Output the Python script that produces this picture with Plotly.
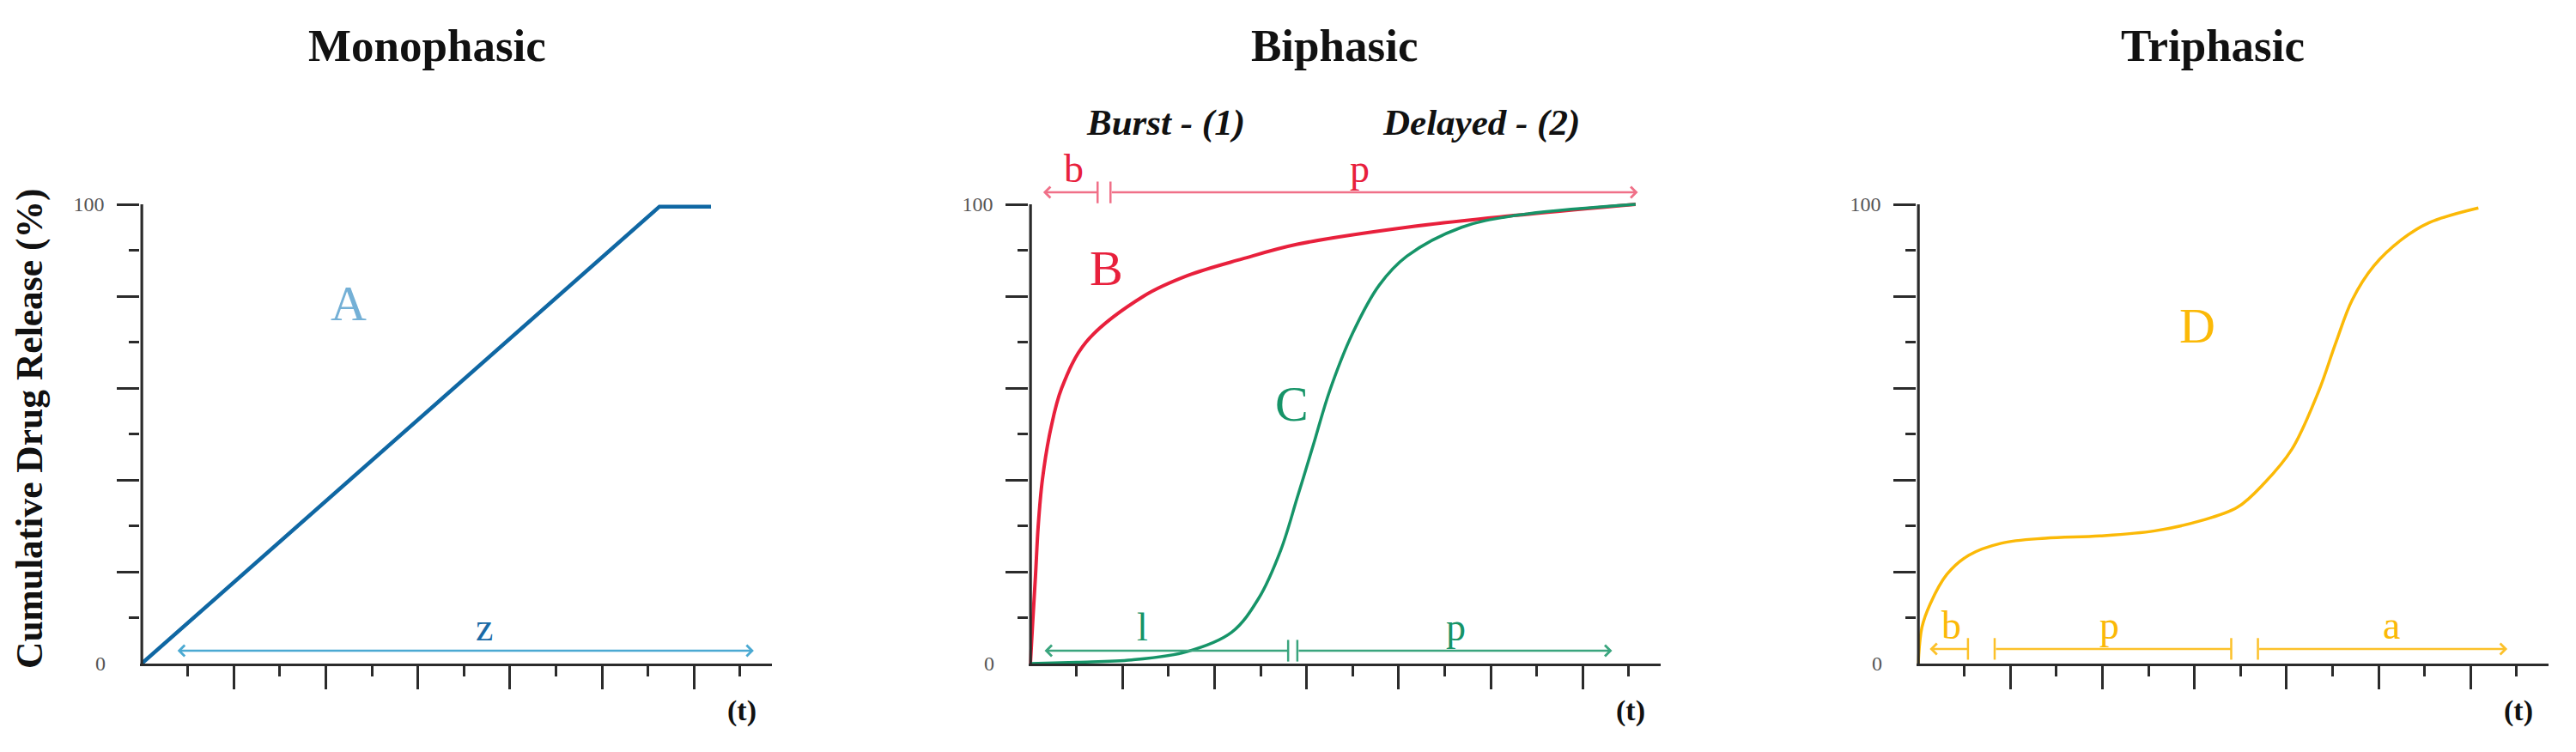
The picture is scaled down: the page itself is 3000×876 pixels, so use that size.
import plotly.graph_objects as go

# ---- data (x in time units, y in % released) ----
# Monophasic
a_x = [0, 11.25, 12.37]
a_y = [0, 99.5, 99.5]

# Biphasic
b_x = [0, 0.05, 0.11, 0.17, 0.26, 0.44, 0.68, 1.21, 2.46, 3.42, 4.6, 5.8, 8.18, 10.56, 13.15]
b_y = [0, 9, 19, 30, 40, 51, 60, 70, 80, 84.5, 88.1, 91.3, 95, 97.6, 100]
c_x = [0, 1.0, 2.2, 3.4, 4.37, 4.96, 5.44, 5.8, 6.15, 6.5, 7.0, 7.58, 8.18, 9.37, 10.56, 13.15]
c_y = [0, 0.3, 0.8, 2.6, 6.8, 14.2, 24.7, 36.2, 47.7, 59.3, 71.9, 82.4, 88.7, 95, 97.6, 100]

# Triphasic
d_x = [0, 0.08, 0.26, 0.62, 1.1, 1.8, 2.76, 3.95, 5.14, 6.1, 6.93, 7.52, 8.12, 8.7,
       9.07, 9.43, 9.9, 10.5, 11.1, 12.17]
d_y = [0, 7.9, 13, 19.4, 23.6, 26.2, 27.3, 27.8, 28.9, 31, 34, 39.3, 46.7, 59.3,
       69.8, 79.2, 86.6, 92.3, 96, 99.2]

# phase spans: (start, end, level, left end, right end, label, label x)
mono_spans = [(0.75, 13.3, 2.8, "arrow", "arrow", "z", 7.44)]
bi_spans_top = [(0.25, 1.46, 102.6, "arrow", "bar", "b", 0.95),
                (1.74, 13.2, 102.6, "bar", "arrow", "p", 7.16)]
bi_spans_bottom = [(0.28, 5.6, 2.8, "arrow", "bar", "l", 2.43),
                   (5.8, 12.64, 2.8, "bar", "arrow", "p", 9.24)]
tri_spans = [(0.22, 1.08, 3.2, "arrow", "bar", "b", 0.71),
             (1.66, 6.8, 3.2, "bar", "bar", "p", 4.16),
             (7.38, 12.8, 3.2, "bar", "arrow", "a", 10.28)]

titles = ["Monophasic", "Biphasic", "Triphasic"]
title_x = [6.2, 6.6, 6.4]
phase_names = [("Burst - (1)", 2.93), ("Delayed - (2)", 9.8)]

x_major = [2, 4, 6, 8, 10, 12]
x_minor = [1, 3, 5, 7, 9, 11, 13]
y_major = [20, 40, 60, 80, 100]
y_minor = [10, 30, 50, 70, 90]
y_text = ["", "", "", "", "100"]

# the page body keeps its default 8px margin, so the figure is shrunk by that much
OFF = 8
W, H = 3000 - OFF, 876 - OFF
PX = 53.6            # pixels per time unit
PY = 5.35            # pixels per percent
Y0 = 773             # page row of y = 0
origins = [165, 1200, 2234]   # page columns of x = 0
X_RANGE = [-0.03, 13.7]
Y_RANGE = [0, 125]
SERIF = "Liberation Serif"
AX = "#2b2b2b"


def fx(px):
    return (px - OFF) / W


def fy(py):
    return 1 - (py - OFF) / H


fig = go.Figure()

curves = [
    (1, a_x, a_y, "#0f67a3", 4.5, "linear"),
    (2, b_x, b_y, "#e8203c", 4, "spline"),
    (2, c_x, c_y, "#169468", 3.5, "spline"),
    (3, d_x, d_y, "#fbb907", 3.5, "spline"),
]
for p, xs, ys, col, w, shp in curves:
    sfx = "" if p == 1 else str(p)
    fig.add_trace(go.Scatter(x=xs, y=ys, mode="lines", xaxis="x" + sfx, yaxis="y" + sfx,
                             line=dict(color=col, width=w, shape=shp, smoothing=1.0),
                             showlegend=False, hoverinfo="skip"))

annotations = []
shapes = []


def add_spans(p, spans, line_col, text_col, font_size=46):
    sfx = "" if p == 1 else str(p)
    bar_x, bar_y = [], []
    for x0, x1, lvl, left, right, lab, lx in spans:
        side = {("arrow", "arrow"): "end+start", ("arrow", "bar"): "start",
                ("bar", "arrow"): "end", ("bar", "bar"): "none"}[(left, right)]
        annotations.append(dict(x=x1, y=lvl, ax=x0, ay=lvl, xref="x" + sfx, yref="y" + sfx,
                                axref="x" + sfx, ayref="y" + sfx, text="", showarrow=True,
                                arrowside=side, arrowhead=4, startarrowhead=4,
                                arrowsize=1, startarrowsize=1, arrowwidth=2.5,
                                arrowcolor=line_col, font=dict(size=1)))
        if left == "bar":
            bar_x.append(x0)
            bar_y.append(lvl)
        if right == "bar":
            bar_x.append(x1)
            bar_y.append(lvl)
        annotations.append(dict(x=lx, y=lvl + 5.2, xref="x" + sfx, yref="y" + sfx, text=lab,
                                showarrow=False, font=dict(family=SERIF, size=font_size, color=text_col)))
    if bar_x:
        fig.add_trace(go.Scatter(x=bar_x, y=bar_y, mode="markers", xaxis="x" + sfx, yaxis="y" + sfx,
                                 marker=dict(symbol="line-ns", size=18,
                                             line=dict(color=line_col, width=2.5)),
                                 showlegend=False, hoverinfo="skip"))


add_spans(1, mono_spans, "#4aa9d2", "#1a6aa6")
add_spans(2, bi_spans_top, "#f07088", "#e8203c")
add_spans(2, bi_spans_bottom, "#3aa57e", "#169468")
add_spans(3, tri_spans, "#fcc12a", "#fbb907")

# curve letters
letters = [(1, "A", 4.5, 78.5, "#74b0d6"), (2, "B", 1.66, 86, "#e8203c"),
           (2, "C", 5.69, 56.5, "#169468"), (3, "D", 6.06, 73.5, "#fbb907")]
for p, t, lx, ly, col in letters:
    sfx = "" if p == 1 else str(p)
    annotations.append(dict(x=lx, y=ly, xref="x" + sfx, yref="y" + sfx, text=t, showarrow=False,
                            font=dict(family=SERIF, size=58, color=col)))

for name, nx in phase_names:
    annotations.append(dict(x=nx, y=117.8, xref="x2", yref="y2", text="<b><i>" + name + "</i></b>",
                            showarrow=False, font=dict(family=SERIF, size=43, color="#111")))

layout = dict(width=W, height=H, margin=dict(l=0, r=0, t=0, b=0), autosize=False,
              plot_bgcolor="white", paper_bgcolor="white", showlegend=False)

for i, ox in enumerate(origins):
    p = i + 1
    sfx = "" if p == 1 else str(p)
    xd = [fx(ox + X_RANGE[0] * PX), fx(ox + X_RANGE[1] * PX)]
    yd = [fy(Y0), fy(Y0 - Y_RANGE[1] * PY)]
    layout["xaxis" + sfx] = dict(domain=xd, range=X_RANGE, anchor="y" + sfx, showgrid=False,
                                 zeroline=False, showline=True, linecolor=AX, linewidth=3,
                                 tickmode="array", tickvals=x_major, showticklabels=False,
                                 ticks="outside", ticklen=27, tickwidth=3, tickcolor=AX,
                                 minor=dict(tickmode="array", tickvals=x_minor, ticks="outside",
                                            ticklen=12, tickwidth=3, tickcolor=AX))
    layout["yaxis" + sfx] = dict(domain=yd, range=Y_RANGE, anchor="x" + sfx, showgrid=False,
                                 zeroline=False, showline=False,
                                 tickmode="array", tickvals=y_major, ticktext=y_text,
                                 ticks="outside", ticklen=26, tickwidth=3, tickcolor=AX,
                                 ticklabelstandoff=10,
                                 tickfont=dict(family=SERIF, size=24, color="#555"),
                                 minor=dict(tickmode="array", tickvals=y_minor, ticks="outside",
                                            ticklen=12, tickwidth=3, tickcolor=AX))
    # y spine from 0 to 100
    shapes.append(dict(type="line", xref="x" + sfx, yref="y" + sfx, x0=0, x1=0, y0=0, y1=100,
                       line=dict(color=AX, width=3.5)))
    annotations.append(dict(x=fx(ox - 40), y=fy(Y0), xref="paper", yref="paper", text="0",
                            xanchor="right", yanchor="middle", showarrow=False,
                            font=dict(family=SERIF, size=24, color="#555")))
    annotations.append(dict(x=13.05, y=fy(828), xref="x" + sfx, yref="paper", text="<b>(t)</b>",
                            xanchor="center", yanchor="middle", showarrow=False,
                            font=dict(family=SERIF, size=34, color="#111")))
    annotations.append(dict(x=title_x[i], y=fy(53), xref="x" + sfx, yref="paper",
                            text="<b>" + titles[i] + "</b>", xanchor="center", yanchor="middle",
                            showarrow=False, font=dict(family=SERIF, size=53, color="#111")))

annotations.append(dict(x=fx(34), y=fy(500), xref="paper", yref="paper", textangle=-90,
                        xanchor="center", yanchor="middle",
                        text="<b>Cumulative Drug Release (%)</b>", showarrow=False,
                        font=dict(family=SERIF, size=43.5, color="#111")))

layout["annotations"] = annotations
layout["shapes"] = shapes
fig.update_layout(**layout)

fig.write_html("out.html")
